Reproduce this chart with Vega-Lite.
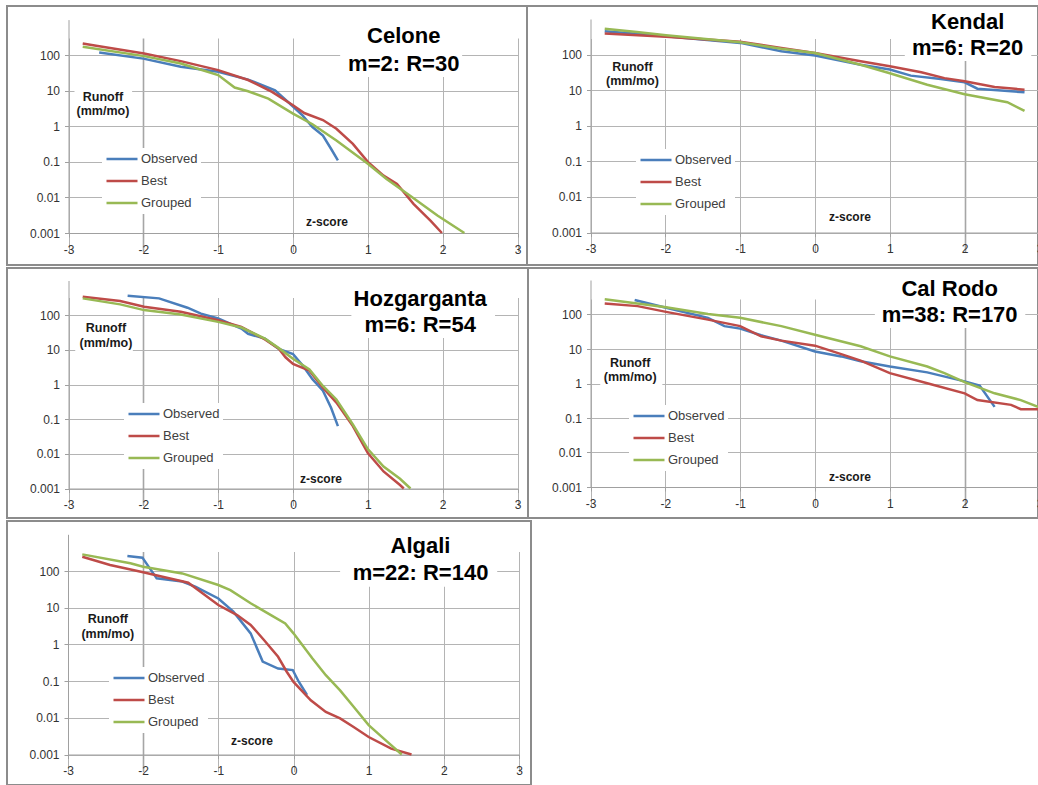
{
  "$schema": "https://vega.github.io/schema/vega-lite/v6.json",
  "background": "white",
  "padding": {"left": 6, "top": 5, "right": 0, "bottom": 0},
  "config": {
    "view": {"stroke": "#8c8c8c", "strokeWidth": 2},
    "axis": {"labelFont": "Liberation Sans", "labelFontSize": 12, "labelColor": "#333333", "labelFlush": false, "labelOverlap": false, "tickSize": 4, "tickColor": "#a0a0a0", "domainColor": "#a0a0a0", "gridColor": "#b4b4b4", "gridWidth": 1, "domainWidth": 1},
    "axisX": {"labelPadding": 7},
    "axisY": {"labelPadding": 5},
    "legend": {"symbolType": "stroke", "symbolSize": 961, "symbolStrokeWidth": 2.5, "fillColor": "white", "padding": 3, "clipHeight": 16, "rowPadding": 6, "labelFont": "Liberation Sans", "labelFontSize": 13, "labelColor": "#404040", "labelOffset": 2},
    "text": {"font": "Liberation Sans"}
  },
  "datasets": {
    "runoff": [
      {"panel": "Celone", "series": "Observed", "z": -2.59, "runoff": 119},
      {"panel": "Celone", "series": "Observed", "z": -2.0, "runoff": 80},
      {"panel": "Celone", "series": "Observed", "z": -1.5, "runoff": 47},
      {"panel": "Celone", "series": "Observed", "z": -1.0, "runoff": 34},
      {"panel": "Celone", "series": "Observed", "z": -0.6, "runoff": 20.6},
      {"panel": "Celone", "series": "Observed", "z": -0.24, "runoff": 10.3},
      {"panel": "Celone", "series": "Observed", "z": 0.0, "runoff": 3.6},
      {"panel": "Celone", "series": "Observed", "z": 0.13, "runoff": 2.0},
      {"panel": "Celone", "series": "Observed", "z": 0.26, "runoff": 0.95},
      {"panel": "Celone", "series": "Observed", "z": 0.4, "runoff": 0.55},
      {"panel": "Celone", "series": "Observed", "z": 0.51, "runoff": 0.23},
      {"panel": "Celone", "series": "Observed", "z": 0.6, "runoff": 0.11},
      {"panel": "Celone", "series": "Best", "z": -2.81, "runoff": 213},
      {"panel": "Celone", "series": "Best", "z": -2.63, "runoff": 183},
      {"panel": "Celone", "series": "Best", "z": -1.99, "runoff": 111},
      {"panel": "Celone", "series": "Best", "z": -1.5, "runoff": 68},
      {"panel": "Celone", "series": "Best", "z": -1.0, "runoff": 38},
      {"panel": "Celone", "series": "Best", "z": -0.6, "runoff": 20},
      {"panel": "Celone", "series": "Best", "z": -0.28, "runoff": 9.3},
      {"panel": "Celone", "series": "Best", "z": 0.0, "runoff": 3.9},
      {"panel": "Celone", "series": "Best", "z": 0.15, "runoff": 2.36},
      {"panel": "Celone", "series": "Best", "z": 0.4, "runoff": 1.5},
      {"panel": "Celone", "series": "Best", "z": 0.58, "runoff": 0.85},
      {"panel": "Celone", "series": "Best", "z": 0.8, "runoff": 0.32},
      {"panel": "Celone", "series": "Best", "z": 1.0, "runoff": 0.1},
      {"panel": "Celone", "series": "Best", "z": 1.21, "runoff": 0.041},
      {"panel": "Celone", "series": "Best", "z": 1.39, "runoff": 0.024},
      {"panel": "Celone", "series": "Best", "z": 1.61, "runoff": 0.0066},
      {"panel": "Celone", "series": "Best", "z": 1.84, "runoff": 0.0022},
      {"panel": "Celone", "series": "Best", "z": 1.99, "runoff": 0.001},
      {"panel": "Celone", "series": "Grouped", "z": -2.81, "runoff": 172},
      {"panel": "Celone", "series": "Grouped", "z": -1.99, "runoff": 94},
      {"panel": "Celone", "series": "Grouped", "z": -1.5, "runoff": 58},
      {"panel": "Celone", "series": "Grouped", "z": -1.0, "runoff": 27.5},
      {"panel": "Celone", "series": "Grouped", "z": -0.78, "runoff": 12.3},
      {"panel": "Celone", "series": "Grouped", "z": -0.6, "runoff": 9.7},
      {"panel": "Celone", "series": "Grouped", "z": -0.33, "runoff": 6.0},
      {"panel": "Celone", "series": "Grouped", "z": 0.0, "runoff": 2.27},
      {"panel": "Celone", "series": "Grouped", "z": 0.26, "runoff": 1.14},
      {"panel": "Celone", "series": "Grouped", "z": 0.58, "runoff": 0.4},
      {"panel": "Celone", "series": "Grouped", "z": 1.0, "runoff": 0.089},
      {"panel": "Celone", "series": "Grouped", "z": 1.25, "runoff": 0.033},
      {"panel": "Celone", "series": "Grouped", "z": 1.57, "runoff": 0.011},
      {"panel": "Celone", "series": "Grouped", "z": 1.93, "runoff": 0.0031},
      {"panel": "Celone", "series": "Grouped", "z": 2.29, "runoff": 0.001},

      {"panel": "Kendal", "series": "Observed", "z": -2.81, "runoff": 454},
      {"panel": "Kendal", "series": "Observed", "z": -1.99, "runoff": 329},
      {"panel": "Kendal", "series": "Observed", "z": -1.0, "runoff": 213},
      {"panel": "Kendal", "series": "Observed", "z": -0.45, "runoff": 124},
      {"panel": "Kendal", "series": "Observed", "z": 0.0, "runoff": 94},
      {"panel": "Kendal", "series": "Observed", "z": 0.61, "runoff": 52},
      {"panel": "Kendal", "series": "Observed", "z": 1.0, "runoff": 38},
      {"panel": "Kendal", "series": "Observed", "z": 1.28, "runoff": 25.6},
      {"panel": "Kendal", "series": "Observed", "z": 1.68, "runoff": 20.5},
      {"panel": "Kendal", "series": "Observed", "z": 2.0, "runoff": 16.6},
      {"panel": "Kendal", "series": "Observed", "z": 2.17, "runoff": 11},
      {"panel": "Kendal", "series": "Observed", "z": 2.8, "runoff": 8.7},
      {"panel": "Kendal", "series": "Best", "z": -2.81, "runoff": 391},
      {"panel": "Kendal", "series": "Best", "z": -1.99, "runoff": 315},
      {"panel": "Kendal", "series": "Best", "z": -1.0, "runoff": 228},
      {"panel": "Kendal", "series": "Best", "z": -0.45, "runoff": 154},
      {"panel": "Kendal", "series": "Best", "z": 0.0, "runoff": 111},
      {"panel": "Kendal", "series": "Best", "z": 0.61, "runoff": 65},
      {"panel": "Kendal", "series": "Best", "z": 1.0, "runoff": 47},
      {"panel": "Kendal", "series": "Best", "z": 1.42, "runoff": 31.7},
      {"panel": "Kendal", "series": "Best", "z": 1.73, "runoff": 21.8},
      {"panel": "Kendal", "series": "Best", "z": 2.0, "runoff": 17.7},
      {"panel": "Kendal", "series": "Best", "z": 2.4, "runoff": 12.3},
      {"panel": "Kendal", "series": "Best", "z": 2.8, "runoff": 10.3},
      {"panel": "Kendal", "series": "Grouped", "z": -2.81, "runoff": 529},
      {"panel": "Kendal", "series": "Grouped", "z": -2.38, "runoff": 428},
      {"panel": "Kendal", "series": "Grouped", "z": -1.99, "runoff": 351},
      {"panel": "Kendal", "series": "Grouped", "z": -1.0, "runoff": 223},
      {"panel": "Kendal", "series": "Grouped", "z": -0.45, "runoff": 145},
      {"panel": "Kendal", "series": "Grouped", "z": 0.0, "runoff": 111},
      {"panel": "Kendal", "series": "Grouped", "z": 0.61, "runoff": 52},
      {"panel": "Kendal", "series": "Grouped", "z": 1.0, "runoff": 30},
      {"panel": "Kendal", "series": "Grouped", "z": 1.5, "runoff": 14.2},
      {"panel": "Kendal", "series": "Grouped", "z": 2.0, "runoff": 7.7},
      {"panel": "Kendal", "series": "Grouped", "z": 2.57, "runoff": 4.6},
      {"panel": "Kendal", "series": "Grouped", "z": 2.8, "runoff": 2.6},

      {"panel": "Hozgarganta", "series": "Observed", "z": -2.21, "runoff": 364},
      {"panel": "Hozgarganta", "series": "Observed", "z": -1.79, "runoff": 305},
      {"panel": "Hozgarganta", "series": "Observed", "z": -1.41, "runoff": 164},
      {"panel": "Hozgarganta", "series": "Observed", "z": -1.23, "runoff": 111},
      {"panel": "Hozgarganta", "series": "Observed", "z": -1.0, "runoff": 80},
      {"panel": "Hozgarganta", "series": "Observed", "z": -0.69, "runoff": 41},
      {"panel": "Hozgarganta", "series": "Observed", "z": -0.6, "runoff": 29},
      {"panel": "Hozgarganta", "series": "Observed", "z": -0.375, "runoff": 21},
      {"panel": "Hozgarganta", "series": "Observed", "z": -0.19, "runoff": 10.7},
      {"panel": "Hozgarganta", "series": "Observed", "z": 0.0, "runoff": 7.6},
      {"panel": "Hozgarganta", "series": "Observed", "z": 0.13, "runoff": 3.5},
      {"panel": "Hozgarganta", "series": "Observed", "z": 0.26, "runoff": 1.43},
      {"panel": "Hozgarganta", "series": "Observed", "z": 0.4, "runoff": 0.66},
      {"panel": "Hozgarganta", "series": "Observed", "z": 0.51, "runoff": 0.21},
      {"panel": "Hozgarganta", "series": "Observed", "z": 0.6, "runoff": 0.063},
      {"panel": "Hozgarganta", "series": "Best", "z": -2.81, "runoff": 341},
      {"panel": "Hozgarganta", "series": "Best", "z": -2.31, "runoff": 257},
      {"panel": "Hozgarganta", "series": "Best", "z": -1.99, "runoff": 175},
      {"panel": "Hozgarganta", "series": "Best", "z": -1.5, "runoff": 125},
      {"panel": "Hozgarganta", "series": "Best", "z": -1.0, "runoff": 71},
      {"panel": "Hozgarganta", "series": "Best", "z": -0.69, "runoff": 46},
      {"panel": "Hozgarganta", "series": "Best", "z": -0.375, "runoff": 20},
      {"panel": "Hozgarganta", "series": "Best", "z": -0.19, "runoff": 10.7},
      {"panel": "Hozgarganta", "series": "Best", "z": -0.1, "runoff": 6.1},
      {"panel": "Hozgarganta", "series": "Best", "z": 0.0, "runoff": 3.9},
      {"panel": "Hozgarganta", "series": "Best", "z": 0.22, "runoff": 2.5},
      {"panel": "Hozgarganta", "series": "Best", "z": 0.4, "runoff": 0.81},
      {"panel": "Hozgarganta", "series": "Best", "z": 0.58, "runoff": 0.3},
      {"panel": "Hozgarganta", "series": "Best", "z": 0.8, "runoff": 0.063},
      {"panel": "Hozgarganta", "series": "Best", "z": 1.0, "runoff": 0.0105},
      {"panel": "Hozgarganta", "series": "Best", "z": 1.21, "runoff": 0.0031},
      {"panel": "Hozgarganta", "series": "Best", "z": 1.43, "runoff": 0.00126},
      {"panel": "Hozgarganta", "series": "Best", "z": 1.48, "runoff": 0.001},
      {"panel": "Hozgarganta", "series": "Grouped", "z": -2.81, "runoff": 305},
      {"panel": "Hozgarganta", "series": "Grouped", "z": -2.31, "runoff": 205},
      {"panel": "Hozgarganta", "series": "Grouped", "z": -1.99, "runoff": 140},
      {"panel": "Hozgarganta", "series": "Grouped", "z": -1.5, "runoff": 104},
      {"panel": "Hozgarganta", "series": "Grouped", "z": -1.0, "runoff": 64},
      {"panel": "Hozgarganta", "series": "Grouped", "z": -0.69, "runoff": 44},
      {"panel": "Hozgarganta", "series": "Grouped", "z": -0.375, "runoff": 21},
      {"panel": "Hozgarganta", "series": "Grouped", "z": -0.19, "runoff": 11.2},
      {"panel": "Hozgarganta", "series": "Grouped", "z": 0.0, "runoff": 5.5},
      {"panel": "Hozgarganta", "series": "Grouped", "z": 0.22, "runoff": 2.7},
      {"panel": "Hozgarganta", "series": "Grouped", "z": 0.4, "runoff": 0.91},
      {"panel": "Hozgarganta", "series": "Grouped", "z": 0.58, "runoff": 0.37},
      {"panel": "Hozgarganta", "series": "Grouped", "z": 0.8, "runoff": 0.07},
      {"panel": "Hozgarganta", "series": "Grouped", "z": 1.0, "runoff": 0.0137},
      {"panel": "Hozgarganta", "series": "Grouped", "z": 1.21, "runoff": 0.0043},
      {"panel": "Hozgarganta", "series": "Grouped", "z": 1.43, "runoff": 0.0019},
      {"panel": "Hozgarganta", "series": "Grouped", "z": 1.57, "runoff": 0.001},

      {"panel": "Cal Rodo", "series": "Observed", "z": -2.41, "runoff": 263},
      {"panel": "Cal Rodo", "series": "Observed", "z": -1.99, "runoff": 156},
      {"panel": "Cal Rodo", "series": "Observed", "z": -1.43, "runoff": 80},
      {"panel": "Cal Rodo", "series": "Observed", "z": -1.21, "runoff": 46},
      {"panel": "Cal Rodo", "series": "Observed", "z": -1.0, "runoff": 39},
      {"panel": "Cal Rodo", "series": "Observed", "z": -0.72, "runoff": 25},
      {"panel": "Cal Rodo", "series": "Observed", "z": -0.45, "runoff": 17.5},
      {"panel": "Cal Rodo", "series": "Observed", "z": 0.0, "runoff": 8.5},
      {"panel": "Cal Rodo", "series": "Observed", "z": 0.35, "runoff": 6.1},
      {"panel": "Cal Rodo", "series": "Observed", "z": 0.61, "runoff": 4.4},
      {"panel": "Cal Rodo", "series": "Observed", "z": 1.0, "runoff": 3.1},
      {"panel": "Cal Rodo", "series": "Observed", "z": 1.5, "runoff": 2.1},
      {"panel": "Cal Rodo", "series": "Observed", "z": 2.0, "runoff": 1.15},
      {"panel": "Cal Rodo", "series": "Observed", "z": 2.2, "runoff": 0.87},
      {"panel": "Cal Rodo", "series": "Observed", "z": 2.4, "runoff": 0.21},
      {"panel": "Cal Rodo", "series": "Best", "z": -2.81, "runoff": 209},
      {"panel": "Cal Rodo", "series": "Best", "z": -2.37, "runoff": 175},
      {"panel": "Cal Rodo", "series": "Best", "z": -1.99, "runoff": 119},
      {"panel": "Cal Rodo", "series": "Best", "z": -1.43, "runoff": 71},
      {"panel": "Cal Rodo", "series": "Best", "z": -1.0, "runoff": 46},
      {"panel": "Cal Rodo", "series": "Best", "z": -0.72, "runoff": 23.4},
      {"panel": "Cal Rodo", "series": "Best", "z": -0.45, "runoff": 17.5},
      {"panel": "Cal Rodo", "series": "Best", "z": 0.0, "runoff": 12.5},
      {"panel": "Cal Rodo", "series": "Best", "z": 0.35, "runoff": 7.1},
      {"panel": "Cal Rodo", "series": "Best", "z": 0.61, "runoff": 4.6},
      {"panel": "Cal Rodo", "series": "Best", "z": 1.0, "runoff": 2.0},
      {"panel": "Cal Rodo", "series": "Best", "z": 1.5, "runoff": 1.02},
      {"panel": "Cal Rodo", "series": "Best", "z": 2.0, "runoff": 0.52},
      {"panel": "Cal Rodo", "series": "Best", "z": 2.17, "runoff": 0.33},
      {"panel": "Cal Rodo", "series": "Best", "z": 2.62, "runoff": 0.24},
      {"panel": "Cal Rodo", "series": "Best", "z": 2.75, "runoff": 0.18},
      {"panel": "Cal Rodo", "series": "Best", "z": 2.98, "runoff": 0.18},
      {"panel": "Cal Rodo", "series": "Grouped", "z": -2.81, "runoff": 275},
      {"panel": "Cal Rodo", "series": "Grouped", "z": -1.99, "runoff": 163},
      {"panel": "Cal Rodo", "series": "Grouped", "z": -1.43, "runoff": 104},
      {"panel": "Cal Rodo", "series": "Grouped", "z": -1.0, "runoff": 80},
      {"panel": "Cal Rodo", "series": "Grouped", "z": -0.45, "runoff": 46},
      {"panel": "Cal Rodo", "series": "Grouped", "z": 0.0, "runoff": 26},
      {"panel": "Cal Rodo", "series": "Grouped", "z": 0.61, "runoff": 12},
      {"panel": "Cal Rodo", "series": "Grouped", "z": 1.0, "runoff": 6.1},
      {"panel": "Cal Rodo", "series": "Grouped", "z": 1.5, "runoff": 3.1},
      {"panel": "Cal Rodo", "series": "Grouped", "z": 1.73, "runoff": 2.0},
      {"panel": "Cal Rodo", "series": "Grouped", "z": 2.0, "runoff": 1.1},
      {"panel": "Cal Rodo", "series": "Grouped", "z": 2.4, "runoff": 0.52},
      {"panel": "Cal Rodo", "series": "Grouped", "z": 2.75, "runoff": 0.33},
      {"panel": "Cal Rodo", "series": "Grouped", "z": 2.98, "runoff": 0.21},

      {"panel": "Algali", "series": "Observed", "z": -2.21, "runoff": 257},
      {"panel": "Algali", "series": "Observed", "z": -2.01, "runoff": 231},
      {"panel": "Algali", "series": "Observed", "z": -1.82, "runoff": 63},
      {"panel": "Algali", "series": "Observed", "z": -1.48, "runoff": 51.5},
      {"panel": "Algali", "series": "Observed", "z": -1.3, "runoff": 37},
      {"panel": "Algali", "series": "Observed", "z": -1.0, "runoff": 17.8},
      {"panel": "Algali", "series": "Observed", "z": -0.8, "runoff": 7.8},
      {"panel": "Algali", "series": "Observed", "z": -0.57, "runoff": 2.0},
      {"panel": "Algali", "series": "Observed", "z": -0.41, "runoff": 0.34},
      {"panel": "Algali", "series": "Observed", "z": -0.205, "runoff": 0.22},
      {"panel": "Algali", "series": "Observed", "z": -0.01, "runoff": 0.2},
      {"panel": "Algali", "series": "Observed", "z": 0.07, "runoff": 0.096},
      {"panel": "Algali", "series": "Observed", "z": 0.18, "runoff": 0.042},
      {"panel": "Algali", "series": "Best", "z": -2.81, "runoff": 245},
      {"panel": "Algali", "series": "Best", "z": -2.44, "runoff": 146},
      {"panel": "Algali", "series": "Best", "z": -2.0, "runoff": 92},
      {"panel": "Algali", "series": "Best", "z": -1.4, "runoff": 48},
      {"panel": "Algali", "series": "Best", "z": -1.0, "runoff": 11.8},
      {"panel": "Algali", "series": "Best", "z": -0.75, "runoff": 6.3},
      {"panel": "Algali", "series": "Best", "z": -0.57, "runoff": 3.4},
      {"panel": "Algali", "series": "Best", "z": -0.39, "runoff": 1.3},
      {"panel": "Algali", "series": "Best", "z": -0.205, "runoff": 0.46},
      {"panel": "Algali", "series": "Best", "z": -0.09, "runoff": 0.18},
      {"panel": "Algali", "series": "Best", "z": 0.0, "runoff": 0.095},
      {"panel": "Algali", "series": "Best", "z": 0.23, "runoff": 0.03},
      {"panel": "Algali", "series": "Best", "z": 0.43, "runoff": 0.0145},
      {"panel": "Algali", "series": "Best", "z": 0.62, "runoff": 0.0096},
      {"panel": "Algali", "series": "Best", "z": 0.8, "runoff": 0.0056},
      {"panel": "Algali", "series": "Best", "z": 1.0, "runoff": 0.003},
      {"panel": "Algali", "series": "Best", "z": 1.3, "runoff": 0.00145},
      {"panel": "Algali", "series": "Best", "z": 1.57, "runoff": 0.001},
      {"panel": "Algali", "series": "Grouped", "z": -2.81, "runoff": 284},
      {"panel": "Algali", "series": "Grouped", "z": -2.17, "runoff": 162},
      {"panel": "Algali", "series": "Grouped", "z": -2.0, "runoff": 131},
      {"panel": "Algali", "series": "Grouped", "z": -1.48, "runoff": 86},
      {"panel": "Algali", "series": "Grouped", "z": -1.0, "runoff": 41.5},
      {"panel": "Algali", "series": "Grouped", "z": -0.84, "runoff": 30},
      {"panel": "Algali", "series": "Grouped", "z": -0.57, "runoff": 13.2},
      {"panel": "Algali", "series": "Grouped", "z": -0.3, "runoff": 6.3},
      {"panel": "Algali", "series": "Grouped", "z": -0.11, "runoff": 3.7},
      {"panel": "Algali", "series": "Grouped", "z": 0.0, "runoff": 2.0},
      {"panel": "Algali", "series": "Grouped", "z": 0.25, "runoff": 0.42},
      {"panel": "Algali", "series": "Grouped", "z": 0.43, "runoff": 0.145},
      {"panel": "Algali", "series": "Grouped", "z": 0.62, "runoff": 0.056},
      {"panel": "Algali", "series": "Grouped", "z": 0.8, "runoff": 0.02},
      {"panel": "Algali", "series": "Grouped", "z": 1.0, "runoff": 0.0063},
      {"panel": "Algali", "series": "Grouped", "z": 1.25, "runoff": 0.0022},
      {"panel": "Algali", "series": "Grouped", "z": 1.44, "runoff": 0.001}
    ]
  },
  "spacing": 1,
  "resolve": {"legend": {"color": "independent"}},
  "vconcat": [
    {
      "hconcat": [
        {
          "width": 520, "height": 259,
          "layer": [
            {"data": {"values": [{}]}, "mark": {"type": "rect", "fill": "white"},
             "encoding": {"x": {"datum": 0.63, "type": "quantitative"}, "x2": {"datum": 2.26}, "y": {"datum": 24.3, "type": "quantitative"}, "y2": {"datum": 1000}}},
            {"data": {"values": [{}]}, "mark": {"type": "rect", "fill": "white"},
             "encoding": {"x": {"datum": -2.92, "type": "quantitative"}, "x2": {"datum": -2.15}, "y": {"datum": 1.71, "type": "quantitative"}, "y2": {"datum": 14.5}}},
            {"data": {"name": "runoff"}, "transform": [{"filter": "datum.panel === 'Celone'"}],
             "mark": {"type": "line", "strokeWidth": 2.5},
             "encoding": {
               "x": {"field": "z", "type": "quantitative", "scale": {"domain": [-3, 3], "range": [61.5, 510.5], "nice": false, "zero": false},
                     "axis": {"values": [-3, -2, -1, 0, 1, 2, 3], "offset": -32, "title": null, "grid": true, "labelExpr": "'' + datum.value",
                              "gridColor": {"condition": {"test": "datum.value === -2", "value": "#a6a6a6"}, "value": "#b4b4b4"},
                              "gridWidth": {"condition": {"test": "datum.value === -2", "value": 1.6}, "value": 1}}},
               "y": {"field": "runoff", "type": "quantitative", "scale": {"type": "log", "domain": [0.001, 1000], "range": [227, 13.6], "nice": false},
                     "axis": {"values": [0.001, 0.01, 0.1, 1, 10, 100], "offset": -61.5, "title": null, "grid": true, "format": "~g"}},
               "color": {"field": "series", "type": "nominal", "scale": {"domain": ["Observed", "Best", "Grouped"], "range": ["#4a7ebb", "#be4b48", "#98b954"]},
                         "legend": {"orient": "none", "legendX": 95, "legendY": 142, "title": null}}
             }},
            {"data": {"values": [{}]}, "mark": {"type": "text", "text": ["Celone", "m=2: R=30"], "fontSize": 22, "fontWeight": "bold", "lineHeight": 28, "dy": -14, "align": "center", "baseline": "middle", "color": "black"},
             "encoding": {"x": {"datum": 1.48, "type": "quantitative"}, "y": {"datum": 144, "type": "quantitative"}}},
            {"data": {"values": [{}]}, "mark": {"type": "text", "text": ["Runoff", "(mm/mo)"], "fontSize": 12.5, "fontWeight": "bold", "lineHeight": 14, "dy": -7, "align": "center", "baseline": "middle", "color": "#1a1a1a"},
             "encoding": {"x": {"datum": -2.54, "type": "quantitative"}, "y": {"datum": 4.24, "type": "quantitative"}}},
            {"data": {"values": [{}]}, "mark": {"type": "text", "text": "z-score", "fontSize": 12, "fontWeight": "bold", "align": "center", "baseline": "middle", "color": "#1a1a1a"},
             "encoding": {"x": {"datum": 0.454, "type": "quantitative"}, "y": {"datum": 0.00204, "type": "quantitative"}}}
          ]
        },
        {
          "width": 511, "height": 259,
          "layer": [
            {"data": {"values": [{}]}, "mark": {"type": "rect", "fill": "white"},
             "encoding": {"x": {"datum": 1.2, "type": "quantitative"}, "x2": {"datum": 2.89}, "y": {"datum": 66, "type": "quantitative"}, "y2": {"datum": 1000}}},
            {"data": {"name": "runoff"}, "transform": [{"filter": "datum.panel === 'Kendal'"}],
             "mark": {"type": "line", "strokeWidth": 2.5},
             "encoding": {
               "x": {"field": "z", "type": "quantitative", "scale": {"domain": [-3, 3], "range": [63.5, 512.5], "nice": false, "zero": false},
                     "axis": {"values": [-3, -2, -1, 0, 1, 2, 3], "offset": -32.5, "title": null, "grid": true, "labelExpr": "'' + datum.value",
                              "gridColor": {"condition": {"test": "datum.value === 2", "value": "#a6a6a6"}, "value": "#b4b4b4"},
                              "gridWidth": {"condition": {"test": "datum.value === 2", "value": 1.6}, "value": 1}}},
               "y": {"field": "runoff", "type": "quantitative", "scale": {"type": "log", "domain": [0.001, 1000], "range": [226.5, 13], "nice": false},
                     "axis": {"values": [0.001, 0.01, 0.1, 1, 10, 100], "offset": -63.5, "title": null, "grid": true, "format": "~g"}},
               "color": {"field": "series", "type": "nominal", "scale": {"domain": ["Observed", "Best", "Grouped"], "range": ["#4a7ebb", "#be4b48", "#98b954"]},
                         "legend": {"orient": "none", "legendX": 109, "legendY": 143, "title": null}}
             }},
            {"data": {"values": [{}]}, "mark": {"type": "text", "text": ["Kendal", "m=6: R=20"], "fontSize": 22, "fontWeight": "bold", "lineHeight": 26, "dy": -13, "align": "center", "baseline": "middle", "color": "black"},
             "encoding": {"x": {"datum": 2.04, "type": "quantitative"}, "y": {"datum": 344, "type": "quantitative"}}},
            {"data": {"values": [{}]}, "mark": {"type": "text", "text": ["Runoff", "(mm/mo)"], "fontSize": 12.5, "fontWeight": "bold", "lineHeight": 14, "dy": -7, "align": "center", "baseline": "middle", "color": "#1a1a1a"},
             "encoding": {"x": {"datum": -2.44, "type": "quantitative"}, "y": {"datum": 28.5, "type": "quantitative"}}},
            {"data": {"values": [{}]}, "mark": {"type": "text", "text": "z-score", "fontSize": 12, "fontWeight": "bold", "align": "center", "baseline": "middle", "color": "#1a1a1a"},
             "encoding": {"x": {"datum": 0.468, "type": "quantitative"}, "y": {"datum": 0.00264, "type": "quantitative"}}}
          ]
        }
      ],
      "spacing": 0,
      "bounds": "flush",
      "resolve": {"legend": {"color": "independent"}}
    },
    {
      "hconcat": [
        {
          "width": 521, "height": 250,
          "layer": [
            {"data": {"values": [{}]}, "mark": {"type": "rect", "fill": "white"},
             "encoding": {"x": {"datum": 0.78, "type": "quantitative"}, "x2": {"datum": 2.7}, "y": {"datum": 21.9, "type": "quantitative"}, "y2": {"datum": 1000}}},
            {"data": {"values": [{}]}, "mark": {"type": "rect", "fill": "white"},
             "encoding": {"x": {"datum": -2.91, "type": "quantitative"}, "x2": {"datum": -2.14}, "y": {"datum": 8.67, "type": "quantitative"}, "y2": {"datum": 72.6}}},
            {"data": {"name": "runoff"}, "transform": [{"filter": "datum.panel === 'Hozgarganta'"}],
             "mark": {"type": "line", "strokeWidth": 2.5},
             "encoding": {
               "x": {"field": "z", "type": "quantitative", "scale": {"domain": [-3, 3], "range": [61.5, 510.5], "nice": false, "zero": false},
                     "axis": {"values": [-3, -2, -1, 0, 1, 2, 3], "offset": -29.5, "title": null, "grid": true, "labelExpr": "'' + datum.value",
                              "gridColor": {"condition": {"test": "datum.value === -2", "value": "#a6a6a6"}, "value": "#b4b4b4"},
                              "gridWidth": {"condition": {"test": "datum.value === -2", "value": 1.6}, "value": 1}}},
               "y": {"field": "runoff", "type": "quantitative", "scale": {"type": "log", "domain": [0.001, 1000], "range": [220.5, 12.5], "nice": false},
                     "axis": {"values": [0.001, 0.01, 0.1, 1, 10, 100], "offset": -61.5, "title": null, "grid": true, "format": "~g"}},
               "color": {"field": "series", "type": "nominal", "scale": {"domain": ["Observed", "Best", "Grouped"], "range": ["#4a7ebb", "#be4b48", "#98b954"]},
                         "legend": {"orient": "none", "legendX": 117, "legendY": 135, "title": null}}
             }},
            {"data": {"values": [{}]}, "mark": {"type": "text", "text": ["Hozgarganta", "m=6: R=54"], "fontSize": 22, "fontWeight": "bold", "lineHeight": 26, "dy": -13, "align": "center", "baseline": "middle", "color": "black"},
             "encoding": {"x": {"datum": 1.7, "type": "quantitative"}, "y": {"datum": 123, "type": "quantitative"}}},
            {"data": {"values": [{}]}, "mark": {"type": "text", "text": ["Runoff", "(mm/mo)"], "fontSize": 12.5, "fontWeight": "bold", "lineHeight": 15, "dy": -7.5, "align": "center", "baseline": "middle", "color": "#1a1a1a"},
             "encoding": {"x": {"datum": -2.5, "type": "quantitative"}, "y": {"datum": 25.1, "type": "quantitative"}}},
            {"data": {"values": [{}]}, "mark": {"type": "text", "text": "z-score", "fontSize": 12, "fontWeight": "bold", "align": "center", "baseline": "middle", "color": "#1a1a1a"},
             "encoding": {"x": {"datum": 0.374, "type": "quantitative"}, "y": {"datum": 0.00188, "type": "quantitative"}}}
          ]
        },
        {
          "width": 510, "height": 250,
          "layer": [
            {"data": {"values": [{}]}, "mark": {"type": "rect", "fill": "white"},
             "encoding": {"x": {"datum": 0.8, "type": "quantitative"}, "x2": {"datum": 2.81}, "y": {"datum": 40.6, "type": "quantitative"}, "y2": {"datum": 1000}}},
            {"data": {"values": [{}]}, "mark": {"type": "rect", "fill": "white"},
             "encoding": {"x": {"datum": -2.87, "type": "quantitative"}, "x2": {"datum": -2.04}, "y": {"datum": 0.85, "type": "quantitative"}, "y2": {"datum": 6.7}}},
            {"data": {"name": "runoff"}, "transform": [{"filter": "datum.panel === 'Cal Rodo'"}],
             "mark": {"type": "line", "strokeWidth": 2.5},
             "encoding": {
               "x": {"field": "z", "type": "quantitative", "scale": {"domain": [-3, 3], "range": [62.5, 511.5], "nice": false, "zero": false},
                     "axis": {"values": [-3, -2, -1, 0, 1, 2, 3], "offset": -31, "title": null, "grid": true, "labelExpr": "'' + datum.value",
                              "gridColor": {"condition": {"test": "datum.value === 2", "value": "#a6a6a6"}, "value": "#b4b4b4"},
                              "gridWidth": {"condition": {"test": "datum.value === 2", "value": 1.6}, "value": 1}}},
               "y": {"field": "runoff", "type": "quantitative", "scale": {"type": "log", "domain": [0.001, 1000], "range": [219, 12], "nice": false},
                     "axis": {"values": [0.001, 0.01, 0.1, 1, 10, 100], "offset": -62.5, "title": null, "grid": true, "format": "~g"}},
               "color": {"field": "series", "type": "nominal", "scale": {"domain": ["Observed", "Best", "Grouped"], "range": ["#4a7ebb", "#be4b48", "#98b954"]},
                         "legend": {"orient": "none", "legendX": 101, "legendY": 137, "title": null}}
             }},
            {"data": {"values": [{}]}, "mark": {"type": "text", "text": ["Cal Rodo", "m=38: R=170"], "fontSize": 22, "fontWeight": "bold", "lineHeight": 26, "dy": -13, "align": "center", "baseline": "middle", "color": "black"},
             "encoding": {"x": {"datum": 1.8, "type": "quantitative"}, "y": {"datum": 223, "type": "quantitative"}}},
            {"data": {"values": [{}]}, "mark": {"type": "text", "text": ["Runoff", "(mm/mo)"], "fontSize": 12.5, "fontWeight": "bold", "lineHeight": 14, "dy": -7, "align": "center", "baseline": "middle", "color": "#1a1a1a"},
             "encoding": {"x": {"datum": -2.47, "type": "quantitative"}, "y": {"datum": 2.46, "type": "quantitative"}}},
            {"data": {"values": [{}]}, "mark": {"type": "text", "text": "z-score", "fontSize": 12, "fontWeight": "bold", "align": "center", "baseline": "middle", "color": "#1a1a1a"},
             "encoding": {"x": {"datum": 0.468, "type": "quantitative"}, "y": {"datum": 0.00201, "type": "quantitative"}}}
          ]
        }
      ],
      "spacing": 0,
      "bounds": "flush",
      "resolve": {"legend": {"color": "independent"}}
    },
    {
      "width": 524, "height": 264,
      "layer": [
        {"data": {"values": [{}]}, "mark": {"type": "rect", "fill": "white"},
         "encoding": {"x": {"datum": 0.62, "type": "quantitative"}, "x2": {"datum": 2.71}, "y": {"datum": 37, "type": "quantitative"}, "y2": {"datum": 1000}}},
        {"data": {"name": "runoff"}, "transform": [{"filter": "datum.panel === 'Algali'"}],
         "mark": {"type": "line", "strokeWidth": 2.5},
         "encoding": {
           "x": {"field": "z", "type": "quantitative", "scale": {"domain": [-3, 3], "range": [61, 512], "nice": false, "zero": false},
                 "axis": {"values": [-3, -2, -1, 0, 1, 2, 3], "offset": -30.5, "title": null, "grid": true, "labelExpr": "'' + datum.value",
                          "gridColor": {"condition": {"test": "datum.value === -2", "value": "#a6a6a6"}, "value": "#b4b4b4"},
                          "gridWidth": {"condition": {"test": "datum.value === -2", "value": 1.6}, "value": 1}}},
           "y": {"field": "runoff", "type": "quantitative", "scale": {"type": "log", "domain": [0.001, 1000], "range": [233.5, 13.3], "nice": false},
                 "axis": {"values": [0.001, 0.01, 0.1, 1, 10, 100], "offset": -61, "title": null, "grid": true, "format": "~g"}},
           "color": {"field": "series", "type": "nominal", "scale": {"domain": ["Observed", "Best", "Grouped"], "range": ["#4a7ebb", "#be4b48", "#98b954"]},
                     "legend": {"orient": "none", "legendX": 102, "legendY": 146, "title": null}}
         }},
        {"data": {"values": [{}]}, "mark": {"type": "text", "text": ["Algali", "m=22: R=140"], "fontSize": 22, "fontWeight": "bold", "lineHeight": 27, "dy": -13.5, "align": "center", "baseline": "middle", "color": "black"},
         "encoding": {"x": {"datum": 1.69, "type": "quantitative"}, "y": {"datum": 200, "type": "quantitative"}}},
        {"data": {"values": [{}]}, "mark": {"type": "text", "text": ["Runoff", "(mm/mo)"], "fontSize": 12.5, "fontWeight": "bold", "lineHeight": 15, "dy": -7.5, "align": "center", "baseline": "middle", "color": "#1a1a1a"},
         "encoding": {"x": {"datum": -2.47, "type": "quantitative"}, "y": {"datum": 3.17, "type": "quantitative"}}},
        {"data": {"values": [{}]}, "mark": {"type": "text", "text": "z-score", "fontSize": 12, "fontWeight": "bold", "align": "center", "baseline": "middle", "color": "#1a1a1a"},
         "encoding": {"x": {"datum": -0.552, "type": "quantitative"}, "y": {"datum": 0.00233, "type": "quantitative"}}}
      ]
    }
  ]
}
